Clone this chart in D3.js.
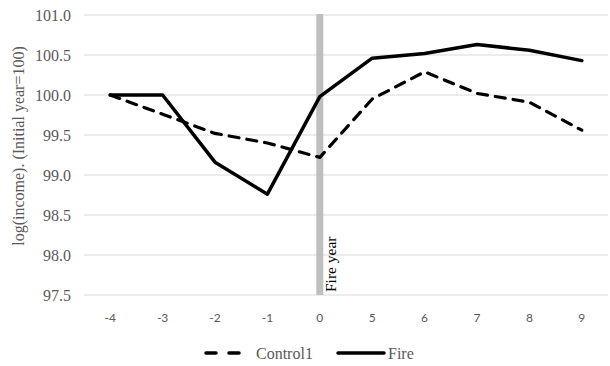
<!DOCTYPE html>
<html><head><meta charset="utf-8">
<script src="https://cdn.jsdelivr.net/npm/d3@7"></script>
<style>body{margin:0;background:#fff}</style>
</head><body>
<svg id="c" width="610" height="366"></svg>
<script>
const categories = ["-4","-3","-2","-1","0","5","6","7","8","9"];
const control1 = [100.0, 99.76, 99.52, 99.40, 99.22, 99.95, 100.29, 100.02, 99.91, 99.56];
const fire = [100.0, 100.0, 99.16, 98.76, 99.98, 100.46, 100.52, 100.63, 100.56, 100.43];
const yTicks = [97.5, 98.0, 98.5, 99.0, 99.5, 100.0, 100.5, 101.0];
const fireYearCategory = "0";

const SERIF = "'Liberation Serif', 'Times New Roman', serif";
const SANS = "Lato, 'Open Sans', sans-serif";

const svg = d3.select("#c");
const L = 84, R = 608, T = 15, B = 295;
const x = d3.scaleBand().domain(categories).range([L, R]);
const y = d3.scaleLinear().domain([97.5, 101.0]).range([B, T]);
const cx = d => x(d) + x.bandwidth()/2;

// gridlines
svg.append("g").selectAll("line").data(yTicks).join("line")
  .attr("x1", L).attr("x2", R).attr("y1", d=>y(d)).attr("y2", d=>y(d))
  .attr("stroke", "#d9d9d9").attr("stroke-width", 1);

// y tick labels
svg.append("g").selectAll("text").data(yTicks).join("text")
  .attr("x", 71).attr("y", d=>y(d)).attr("dy", "0.35em")
  .attr("text-anchor", "end")
  .style("font-family", SERIF)
  .attr("font-size", 16).attr("fill", "#595959")
  .text(d=>d.toFixed(1));

// x tick labels
svg.append("g").selectAll("text").data(categories).join("text")
  .attr("x", d=>cx(d)).attr("y", 318).attr("dy", "0.35em")
  .attr("text-anchor", "middle")
  .style("font-family", SANS)
  .attr("font-size", 12).attr("fill", "#595959")
  .text(d=>d);

// fire year bar
svg.append("line")
  .attr("x1", cx(fireYearCategory)).attr("x2", cx(fireYearCategory))
  .attr("y1", T - 1).attr("y2", B)
  .attr("stroke", "#bfbfbf").attr("stroke-width", 7);
svg.append("text")
  .attr("transform", `translate(${cx(fireYearCategory)+16},${B-3}) rotate(-90)`)
  .style("font-family", SERIF)
  .attr("font-size", 15.5).attr("fill", "#000")
  .text("Fire year");

// y title
svg.append("text")
  .attr("transform", `translate(24,${(T+B)/2 - 9}) rotate(-90)`)
  .attr("text-anchor", "middle")
  .style("font-family", SERIF)
  .attr("font-size", 16).attr("fill", "#595959")
  .text("log(income). (Initial year=100)");

const line = d3.line().x((d,i)=>cx(categories[i])).y(d=>y(d));

svg.append("path").datum(control1).attr("d", line)
  .attr("fill", "none").attr("stroke", "#000").attr("stroke-width", 3.2)
  .attr("stroke-dasharray", "10,8").attr("stroke-linecap", "round").attr("stroke-linejoin", "round");
svg.append("path").datum(fire).attr("d", line)
  .attr("fill", "none").attr("stroke", "#000").attr("stroke-width", 3.5)
  .attr("stroke-linecap", "round").attr("stroke-linejoin", "round");

// legend
const ly = 353;
svg.append("line").attr("x1", 206).attr("x2", 243).attr("y1", ly).attr("y2", ly)
  .attr("stroke", "#000").attr("stroke-width", 3.5).attr("stroke-dasharray", "10,13").attr("stroke-linecap", "round");
svg.append("text").attr("x", 256).attr("y", ly).attr("dy", "0.35em")
  .style("font-family", SERIF).attr("font-size", 16).attr("fill", "#595959")
  .text("Control1");
svg.append("line").attr("x1", 338).attr("x2", 384).attr("y1", ly).attr("y2", ly)
  .attr("stroke", "#000").attr("stroke-width", 3.5).attr("stroke-linecap", "round");
svg.append("text").attr("x", 388).attr("y", ly).attr("dy", "0.35em")
  .style("font-family", SERIF).attr("font-size", 16).attr("fill", "#595959")
  .text("Fire");
</script>
</body></html>
